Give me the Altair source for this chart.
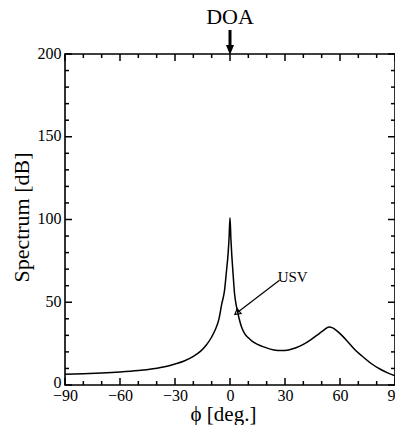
import altair as alt
import pandas as pd

# ---- data ----
phi = [-90, -80, -70, -60, -50, -42, -35, -30, -25, -20, -16, -13, -10, -8, -6, -4.5,
       -3, -2, -1, -0.5, 0, 0.5, 1, 1.5, 2.5, 3.6, 5, 6.3, 8, 10, 12, 15, 19, 24, 28,
       32, 36, 40, 44, 48, 51, 54, 56, 58, 61, 64, 68, 72, 77, 82, 86, 90]
spectrum = [6.5, 6.8, 7.2, 7.8, 8.7, 9.8, 11.2, 12.7, 14.5, 17.3, 20.5, 24, 29, 33.5, 40, 49,
            57, 68, 80, 89, 101, 88, 78, 70, 55, 47, 40, 35, 31, 28.5, 26.5, 24.5, 22.8, 21.2, 20.8,
            21.2, 22.5, 24.5, 27.3, 30.5, 33, 35, 34.5, 33, 30, 26.5, 21.5, 17.5, 13, 9.5, 7.3, 5.5]

x_major = [-90, -60, -30, 0, 30, 60, 90]
x_minor = [-80, -70, -50, -40, -20, -10, 10, 20, 40, 50, 70, 80]
y_major = [0, 50, 100, 150, 200]
y_minor = [10, 20, 30, 40, 60, 70, 80, 90, 110, 120, 130, 140, 160, 170, 180, 190]

doa_label = ["DOA"]
doa_phi = [0]
usv_label = ["USV"]
usv_text_phi = [26]
usv_text_val = [65.5]
usv_arrow_phi = [27, 4.2]
usv_arrow_val = [63.3, 44]

W, H = 330, 331
FONT = "'Liberation Serif', 'Times New Roman', Times, serif"
MAJ, MIN = 7, 4

xs = alt.Scale(domain=[-90, 90], nice=False, zero=False)
ys = alt.Scale(domain=[0, 200], nice=False, zero=False)

X = alt.X("phi:Q", scale=xs, title="ϕ [deg.]")
Y = alt.Y("spec:Q", scale=ys, title="Spectrum [dB]")

df = pd.DataFrame({"phi": phi, "spec": spectrum})

line = alt.Chart(df).mark_line(color="black", strokeWidth=1.5, interpolate="monotone").encode(
    x=alt.X("phi:Q", scale=xs, title="ϕ [deg.]", axis=alt.Axis(
        values=x_major, ticks=False, domain=False, grid=False, labelFlush=False,
        labelFont=FONT, labelFontSize=16, labelColor="black", labelPadding=2,
        titleFont=FONT, titleFontSize=21, titleFontWeight="normal", titleColor="black",
        titleX=158, titleY=35, titleBaseline="alphabetic", titleAlign="center")),
    y=alt.Y("spec:Q", scale=ys, title="Spectrum [dB]", axis=alt.Axis(
        values=y_major, ticks=False, domain=False, grid=False, labelFlush=False,
        labelFont=FONT, labelFontSize=16, labelColor="black", labelPadding=4,
        labelOffset={"condition": {"test": "datum.value === 0", "value": -3}, "value": -1},
        titleFont=FONT, titleFontSize=22, titleFontWeight="normal", titleColor="black",
        titleX=-37, titleY=163, titleBaseline="alphabetic", titleAlign="center", titleAngle=270)),
)


def xticks(vals, length):
    d = pd.DataFrame({"phi": vals})
    bot = alt.Chart(d).mark_rule(color="black", strokeWidth=1.5).encode(
        x=X, y=alt.value(H), y2=alt.value(H - length))
    top = alt.Chart(d).mark_rule(color="black", strokeWidth=1.5).encode(
        x=X, y=alt.value(0), y2=alt.value(length))
    return [bot, top]


def yticks(vals, length):
    d = pd.DataFrame({"spec": vals})
    left = alt.Chart(d).mark_rule(color="black", strokeWidth=1.5).encode(
        y=Y, x=alt.value(0), x2=alt.value(length))
    right = alt.Chart(d).mark_rule(color="black", strokeWidth=1.5).encode(
        y=Y, x=alt.value(W), x2=alt.value(W - length))
    return [left, right]


ticks = xticks(x_major, MAJ) + xticks(x_minor, MIN) + yticks(y_major, MAJ) + yticks(y_minor, MIN)

# DOA annotation
doa_df = pd.DataFrame({"phi": doa_phi, "t": doa_label})
doa_text = alt.Chart(doa_df).mark_text(font=FONT, fontSize=22, color="black", baseline="middle").encode(
    x=X, y=alt.value(-37), text="t:N")
doa_shaft = alt.Chart(doa_df).mark_rule(color="black", strokeWidth=3).encode(
    x=X, y=alt.value(-24), y2=alt.value(-8))
doa_head = alt.Chart(doa_df).mark_point(
    shape="M -1 -1.25 L 1 -1.25 L 0 1.25 Z", filled=True, color="black", size=64, opacity=1
).encode(x=X, y=alt.value(-4))

# USV annotation
usv_df = pd.DataFrame({"phi": usv_text_phi, "spec": usv_text_val, "t": usv_label})
usv_text = alt.Chart(usv_df).mark_text(font=FONT, fontSize=15, color="black", align="left",
                                       baseline="middle").encode(x=X, y=Y, text="t:N")
arr_df = pd.DataFrame({"phi": usv_arrow_phi, "spec": usv_arrow_val, "o": [0, 1]})
usv_line = alt.Chart(arr_df).mark_line(color="black", strokeWidth=1.2).encode(
    x=X, y=Y, order="o:Q")
usv_head = alt.Chart(arr_df.iloc[[1]]).mark_point(
    shape="triangle", filled=False, color="black", size=40, angle=232, strokeWidth=1.2, opacity=1
).encode(x=X, y=Y)

chart = alt.layer(line, *ticks, doa_text, doa_shaft, doa_head, usv_text, usv_line, usv_head).properties(
    width=W, height=H,
    autosize=alt.AutoSizeParams(type="none"),
    padding={"left": 57, "top": 46, "right": 0, "bottom": 40},
    background="white",
).configure_view(stroke="black", strokeWidth=1.6)

chart.save("out.html", embed_options={"renderer": "svg", "actions": False})
